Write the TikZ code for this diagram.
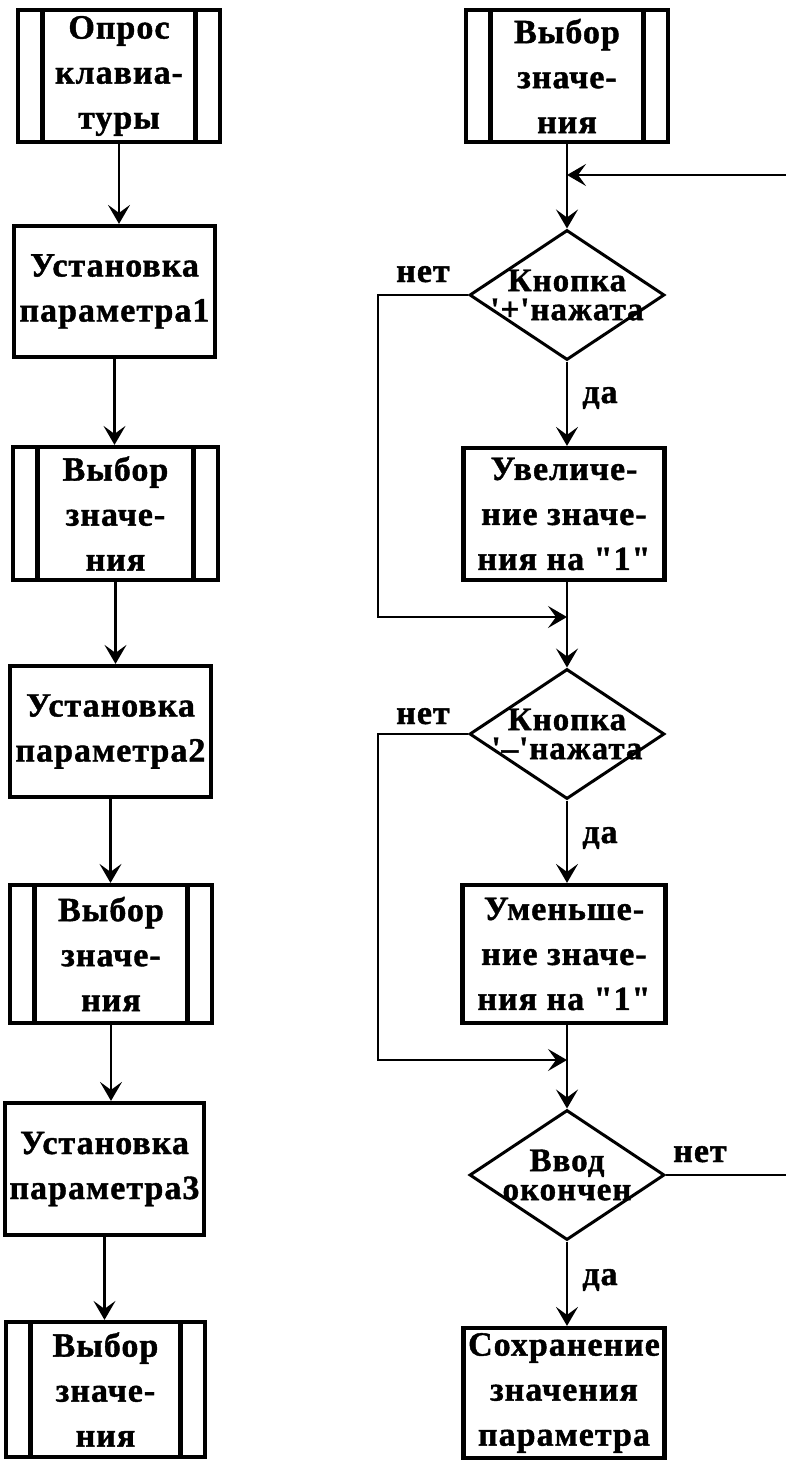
\documentclass[tikz,border=0pt]{standalone}
\usepackage{fontspec}
\newfontfamily\ff[LetterSpace=3,Ligatures=TeXOff,BoldFeatures={FakeBold=1.2}]{Liberation Serif}
\usetikzlibrary{shapes.geometric,arrows.meta}
\begin{document}
\begin{tikzpicture}[x=1pt,y=-1pt,
  every node/.style={font=\ff\bfseries\fontsize{34}{45}\selectfont},
  box/.style={draw,line width=4.2pt,minimum width=201pt,minimum height=131pt,inner sep=0pt,align=center},
  sub/.style={box,path picture={\draw[line width=4.2pt]
     ([xshift=24.5pt]path picture bounding box.north west) -- ([xshift=24.5pt]path picture bounding box.south west)
     ([xshift=-24.5pt]path picture bounding box.north east) -- ([xshift=-24.5pt]path picture bounding box.south east);}},
  dia/.style={draw,diamond,aspect=1.5,line width=3pt,minimum width=195pt,minimum height=130pt,
     inner xsep=-20pt,inner ysep=-4pt,align=center,font=\ff\bfseries\fontsize{33}{29}\selectfont},
  lbl/.style={anchor=base,inner sep=0pt,font=\ff\bfseries\fontsize{34}{36}\selectfont},
  conn/.style={line width=2.2pt},
  arr/.style={conn,-{Stealth[length=19pt,width=22pt,inset=8pt]}}]
\useasboundingbox (0,0) rectangle (786,1461);
% left column
\node[sub,minimum width=202pt,minimum height=132pt] (L1) at (119,76) {Опрос\\клавиа-\\туры};
\node[box] (L2) at (114.5,291.5) {Установка\\параметра1};
\node[sub,minimum width=205pt,minimum height=133pt] (L3) at (115.5,513.5) {Выбор\\значе-\\ния};
\node[box] (L4) at (110.5,731.5) {Установка\\параметра2};
\node[sub,minimum width=202pt,minimum height=138pt] (L5) at (111,954) {Выбор\\значе-\\ния};
\node[box,minimum width=199pt,minimum height=132pt] (L6) at (104.5,1169) {Установка\\параметра3};
\node[sub,minimum width=199pt,minimum height=135pt] (L7) at (105.5,1389.5) {Выбор\\значе-\\ния};
\draw[arr] (L1.south) -- (L1.south |- L2.north);
\draw[arr] (L2.south) -- (L2.south |- L3.north);
\draw[arr] (L3.south) -- (L3.south |- L4.north);
\draw[arr] (L4.south) -- (L4.south |- L5.north);
\draw[arr] (L5.south) -- (L5.south |- L6.north);
\draw[arr] (L6.south) -- (L6.south |- L7.north);
% right column
\node[sub,minimum width=202pt,minimum height=132pt] (R1) at (567,76) {Выбор\\значе-\\ния};
\coordinate (J1) at (567,175);
\node[dia] (D1) at (567,295) {Кнопка\\'+'нажата};
\node[box,minimum height=132pt] (R2) at (564,514) {Увеличе-\\ние значе-\\ния на "1"};
\coordinate (J2) at (567,617);
\coordinate (B1) at (378,617);
\node[dia] (D2) at (567,734) {Кнопка\\'–'нажата};
\node[box,minimum width=203pt,minimum height=138pt] (R3) at (564,954) {Уменьше-\\ние значе-\\ния на "1"};
\coordinate (J3) at (567,1060);
\coordinate (B2) at (378,1060);
\node[dia] (D3) at (567,1175) {Ввод\\окончен};
\node[box,minimum height=130pt] (R4) at (564,1393) {Сохранение\\значения\\параметра};
\coordinate (C1) at (792,1175);
\coordinate (C2) at (792,175);
\draw[conn] (R1.south -| J1) -- (J1);
\draw[arr] (J1) -- (D1.north);
\draw[arr] (D1.south) -- (D1.south |- R2.north);
\draw[conn] (R2.south -| J2) -- (J2);
\draw[arr] (J2) -- (D2.north);
\draw[arr] (D2.south) -- (D2.south |- R3.north);
\draw[conn] (R3.south -| J3) -- (J3);
\draw[arr] (J3) -- (D3.north);
\draw[arr] (D3.south) -- (D3.south |- R4.north);
\draw[arr] (D1.west) -| (B1) -- (J2);
\draw[arr] (D2.west) -| (B2) -- (J3);
\draw[arr] (D3.east) -- (C1) -- (C2) -- (J1);
% labels
\node[lbl] (n1) at (423,282) {нет};
\node[lbl] (y1) at (600,403) {да};
\node[lbl] (n2) at (423,724) {нет};
\node[lbl] (y2) at (600,843) {да};
\node[lbl] (n3) at (700,1162) {нет};
\node[lbl] (y3) at (600,1285) {да};
\end{tikzpicture}
\end{document}
